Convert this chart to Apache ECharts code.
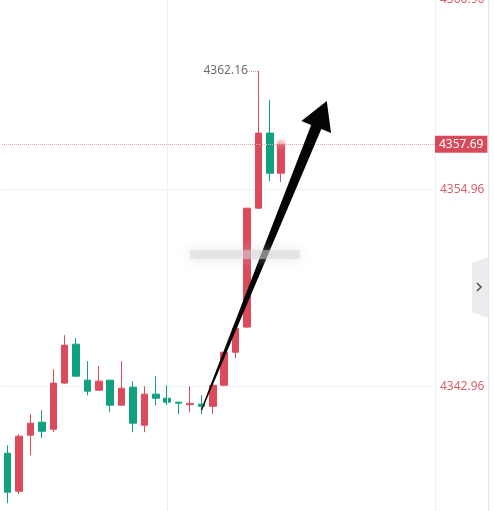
<!DOCTYPE html>
<html>
<head>
<meta charset="utf-8">
<script src="https://cdn.jsdelivr.net/npm/echarts@6/dist/echarts.min.js"></script>
<style>
  html, body { margin: 0; padding: 0; background: #fff; }
  #chart { width: 494px; height: 511px; }
</style>
</head>
<body>
<div id="chart"></div>
<script>
// one slot per candle, plus empty room on the right
const slots = Array.from({ length: 38 }, (_, i) => String(i + 1));

const opens  = [4338.88, 4336.57, 4339.98, 4340.77, 4340.34, 4343.15, 4345.52, 4343.33, 4342.72, 4343.33,
                4341.81, 4342.90, 4340.59, 4342.48, 4342.23, 4341.99, 4341.84, 4341.87, 4341.74, 4343.02,
                4345.03, 4346.56, 4353.80, 4358.37, 4355.93];
const closes = [4336.51, 4339.92, 4340.71, 4340.22, 4343.15, 4345.46, 4343.57, 4342.66, 4343.27, 4341.81,
                4342.84, 4340.71, 4342.48, 4342.23, 4341.99, 4341.93, 4341.90, 4341.74, 4343.02, 4345.03,
                4346.49, 4353.80, 4358.37, 4355.93, 4357.69];
const lows   = [4335.84, 4336.39, 4338.76, 4339.80, 4340.16, 4343.10, 4343.57, 4342.41, 4342.70, 4341.38,
                4341.79, 4340.16, 4340.16, 4341.81, 4341.81, 4341.26, 4341.38, 4341.26, 4341.26, 4342.96,
                4344.67, 4346.50, 4353.80, 4355.45, 4355.39];
const highs  = [4339.37, 4340.04, 4341.26, 4341.50, 4344.00, 4346.07, 4345.89, 4344.49, 4344.18, 4343.33,
                4344.49, 4343.27, 4342.96, 4343.57, 4343.02, 4341.99, 4342.96, 4342.41, 4343.21, 4345.03,
                4346.80, 4353.80, 4362.16, 4360.38, 4357.69];

const yTicks = [4342.96, 4354.96, 4366.96];
const yMin = 4335, yMax = 4366.96;

const lastPrice = 4357.69;
const maxHigh = 4362.16;
const maxIndex = 22;

// hand drawn arrow, start and tip in data coords [slot index, price]
const arrowFrom = [16.7, 4341.50];
const arrowTo = [28.2, 4360.32];

const upColor = '#dc4b5c';
const downColor = '#10a17f';
const font = 'Noto Sans';

const candles = opens.map((o, i) => [o, closes[i], lows[i], highs[i]]);

const chart = echarts.init(document.getElementById('chart'));

chart.setOption({
  animation: false,
  backgroundColor: '#fff',
  grid: { left: 2, right: 59, top: -8, bottom: -6, outerBoundsMode: 'none' },
  xAxis: {
    type: 'category',
    data: slots,
    boundaryGap: true,
    axisLine: { show: false },
    axisTick: { show: false },
    axisLabel: { show: false },
    splitLine: { show: false }
  },
  yAxis: {
    type: 'value',
    position: 'right',
    min: yMin,
    max: yMax,
    axisLine: { show: true, lineStyle: { color: '#efeff2' } },
    axisTick: { show: false, customValues: yTicks },
    splitLine: { show: true, lineStyle: { color: '#f1f1f1' } },
    axisLabel: {
      customValues: yTicks,
      margin: 5,
      color: '#d6616d',
      fontFamily: font,
      fontSize: 12,
      formatter: (v) => (v === yMax ? '{top|' + v.toFixed(2) + '}' : v.toFixed(2)),
      rich: { top: { padding: [16, 0, 0, 0], color: '#d6616d', fontFamily: font, fontSize: 12 } }
    }
  },
  series: [
    {
      type: 'candlestick',
      data: candles,
      barWidth: 7,
      itemStyle: {
        color: upColor,
        color0: downColor,
        borderColor: upColor,
        borderColor0: downColor,
        borderWidth: 1
      },
      markLine: {
        silent: true,
        symbol: ['none', 'none'],
        data: [
          {
            xAxis: slots[14],
            lineStyle: { type: 'solid', color: '#f1f1f1', width: 1 },
            label: { show: false }
          },
          {
            yAxis: lastPrice,
            lineStyle: { type: 'dotted', color: '#f2a3ad', width: 1 },
            label: {
              show: true,
              position: 'end',
              distance: 0,
              formatter: lastPrice.toFixed(2),
              color: '#fff',
              backgroundColor: '#d8495a',
              padding: [3, 4, 2, 4],
              fontFamily: font,
              fontSize: 12
            }
          },
          [
            { coord: [maxIndex - 1, maxHigh], lineStyle: { type: 'dotted', color: '#d79aa2', width: 1 }, label: { show: false } },
            { coord: [maxIndex, maxHigh] }
          ]
        ]
      },
      markPoint: {
        silent: true,
        data: [
          {
            coord: [maxIndex, maxHigh],
            symbol: 'circle',
            symbolSize: 1,
            itemStyle: { color: 'rgba(0,0,0,0)' },
            label: {
              show: true,
              position: 'left',
              distance: 10,
              formatter: maxHigh.toFixed(2),
              color: '#6e6e6e',
              fontFamily: font,
              fontSize: 12
            }
          },
          {
            coord: [opens.length - 1, lastPrice],
            symbol: 'circle',
            symbolSize: 9,
            itemStyle: { color: 'rgba(236,120,130,0.35)', shadowBlur: 6, shadowColor: 'rgba(236,120,130,0.6)' },
            label: { show: false }
          }
        ]
      }
    }
  ]
});

// arrow polygon built from the two data points
const p0 = chart.convertToPixel({ gridIndex: 0 }, arrowFrom);
const p1 = chart.convertToPixel({ gridIndex: 0 }, arrowTo);
const dx = p1[0] - p0[0], dy = p1[1] - p0[1];
const len = Math.hypot(dx, dy);
const ux = dx / len, uy = dy / len;
const nx = -uy, ny = ux;
const headLen = 28, headHalf = 16, shaftHalf = 5.5, tailHalf = 0.6;
const bx = p1[0] - ux * headLen, by = p1[1] - uy * headLen;
const arrowPts = [
  [p0[0] + nx * tailHalf, p0[1] + ny * tailHalf],
  [bx + nx * shaftHalf, by + ny * shaftHalf],
  [bx + nx * headHalf, by + ny * headHalf],
  [p1[0], p1[1]],
  [bx - nx * headHalf, by - ny * headHalf],
  [bx - nx * shaftHalf, by - ny * shaftHalf],
  [p0[0] - nx * tailHalf, p0[1] - ny * tailHalf]
];

chart.setOption({
  graphic: [
    { type: 'polygon', z: 50, shape: { points: arrowPts }, style: { fill: '#050505' } },
    {
      type: 'rect', z: 60,
      shape: { x: 190, y: 250, width: 110, height: 9 },
      style: { fill: 'rgba(214,214,216,0.5)', shadowBlur: 12, shadowColor: 'rgba(200,200,204,0.9)' }
    },
    { type: 'rect', z: 40, shape: { x: 488, y: 0, width: 1, height: 511 }, style: { fill: '#e8e8ec' } },
    { type: 'polygon', z: 41, shape: { points: [[472, 263], [488, 257], [488, 318], [472, 312]] }, style: { fill: '#ececf0' } },
    { type: 'polyline', z: 42, shape: { points: [[477, 283], [481, 287], [477, 291]] }, style: { stroke: '#555', lineWidth: 1.6, fill: null } }
  ]
});
</script>
</body>
</html>
